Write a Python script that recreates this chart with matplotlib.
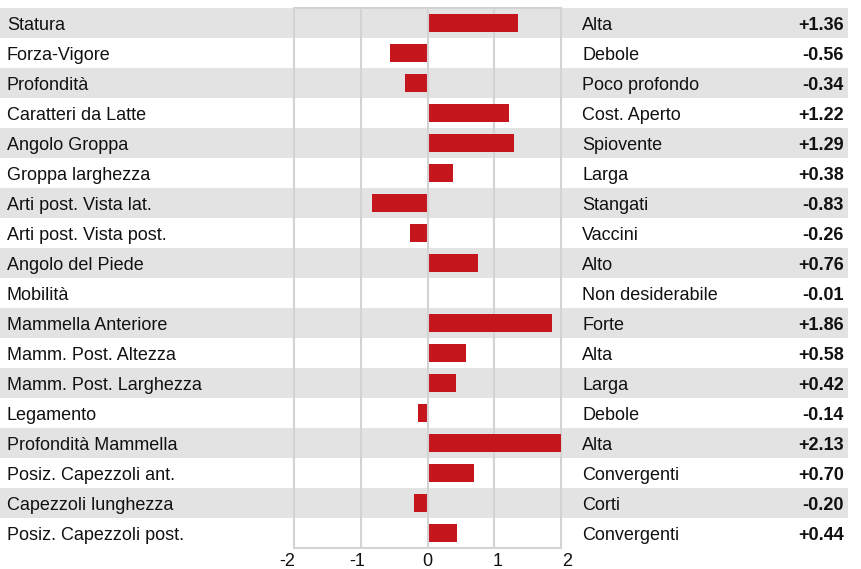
import matplotlib
matplotlib.use("Agg")
import matplotlib.pyplot as plt

plt.rcParams['font.family'] = ['Liberation Sans', 'DejaVu Sans']

traits = ["Statura", "Forza-Vigore", "Profondità", "Caratteri da Latte", "Angolo Groppa",
          "Groppa larghezza", "Arti post. Vista lat.", "Arti post. Vista post.", "Angolo del Piede",
          "Mobilità", "Mammella Anteriore", "Mamm. Post. Altezza", "Mamm. Post. Larghezza",
          "Legamento", "Profondità Mammella", "Posiz. Capezzoli ant.", "Capezzoli lunghezza",
          "Posiz. Capezzoli post."]
descriptors = ["Alta", "Debole", "Poco profondo", "Cost. Aperto", "Spiovente", "Larga", "Stangati",
               "Vaccini", "Alto", "Non desiderabile", "Forte", "Alta", "Larga", "Debole", "Alta",
               "Convergenti", "Corti", "Convergenti"]
values = [1.36, -0.56, -0.34, 1.22, 1.29, 0.38, -0.83, -0.26, 0.76, -0.01, 1.86, 0.58, 0.42,
          -0.14, 2.13, 0.70, -0.20, 0.44]
xticks = [-2, -1, 0, 1, 2]

W, H = 861, 569
fig = plt.figure(figsize=(W / 100, H / 100), dpi=100)
fig.patch.set_facecolor('white')

n = len(traits)
rows = list(range(n))
row_top, row_h = 8, 30
fs = 13
txt_color = '#111111'
stripe = '#e3e3e3'
grid_c = '#d3d3d3'
bar_c = '#c4161c'
base_off = 7.2 / row_h  # baseline offset below row centre, in row units

# background axes covering the whole figure, y in row units
bg = fig.add_axes([0, 0, 1, 1])
bg.set_xlim(0, W)
bg.set_ylim((H - row_top) / row_h - 0.5, -row_top / row_h - 0.5)
bg.axis('off')
for i in rows:
    if i % 2 == 0:
        bg.barh(i, 848, left=0, height=1.0, color=stripe, linewidth=0, zorder=0)
    y = i + base_off
    bg.text(7, y, traits[i], ha='left', va='baseline', fontsize=fs, color=txt_color)
    bg.text(582, y, descriptors[i], ha='left', va='baseline', fontsize=fs, color=txt_color)
    bg.text(844, y, f"{values[i]:+.2f}", ha='right', va='baseline', fontsize=fs,
            fontweight='bold', color=txt_color)

# bar axes
x0, x1 = 294, 561
y_top, y_bot = row_top, row_top + n * row_h
ax = fig.add_axes([x0 / W, (H - y_bot) / H, (x1 - x0) / W, (y_bot - y_top) / H])
ax.patch.set_alpha(0)
ax.set_xlim(-2, 2)
ax.set_ylim(n - 0.5, -0.5)
ax.barh(rows, values, height=0.6, color=bar_c, linewidth=0, zorder=3)
for g in [-1, 1]:
    ax.axvline(g, color=grid_c, linewidth=1.5, zorder=2)
ax.axvline(0, color=grid_c, linewidth=1.5, zorder=4)
for s in ax.spines.values():
    s.set_color(grid_c)
    s.set_linewidth(1.5)
ax.set_yticks([])
ax.set_xticks([])

# tick label axis (labels spaced slightly wider than the grid, as in the source)
lx0, lx1 = 287.5, 567.5
tax = fig.add_axes([lx0 / W, (H - y_bot) / H, (lx1 - lx0) / W, 0.001])
tax.patch.set_alpha(0)
for s in tax.spines.values():
    s.set_visible(False)
tax.set_xlim(-2, 2)
tax.set_yticks([])
tax.set_xticks(xticks)
tax.set_xticklabels([str(t) for t in xticks])
tax.tick_params(axis='x', length=0, pad=3.5, labelsize=fs, labelcolor=txt_color)

fig.savefig('out.png', dpi=100)
